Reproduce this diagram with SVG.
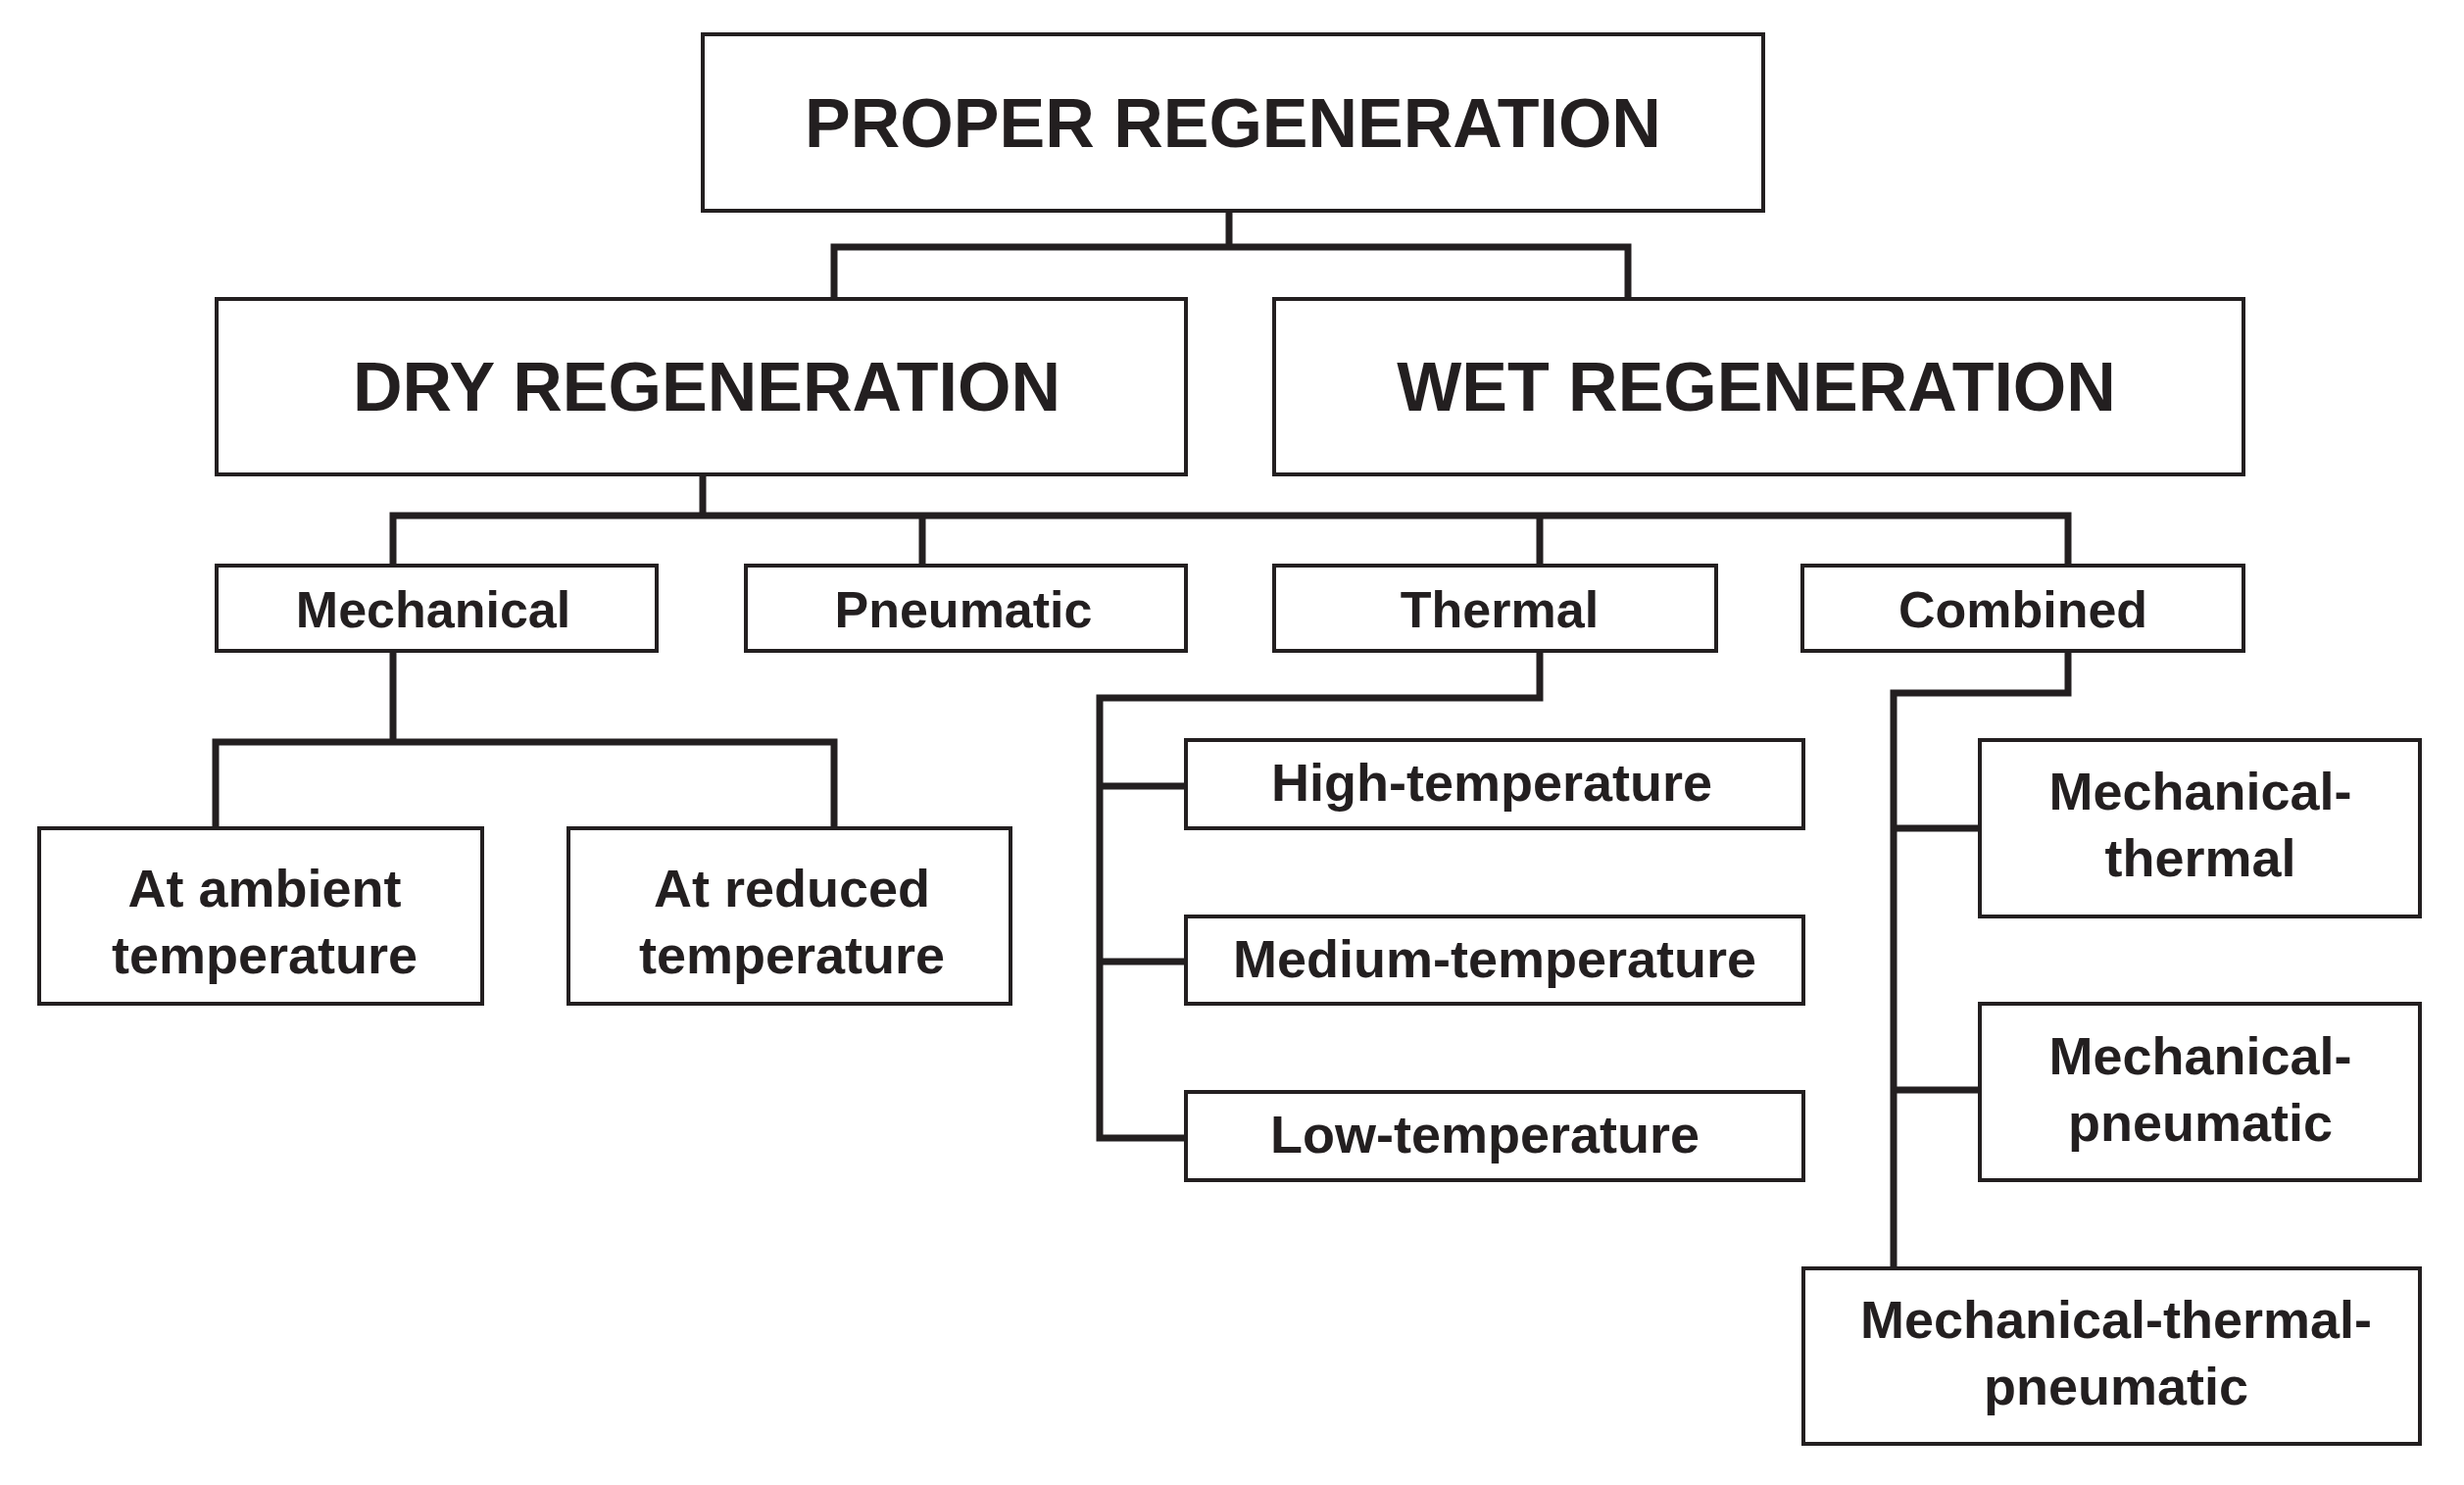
<svg xmlns="http://www.w3.org/2000/svg" width="2514" height="1515" viewBox="0 0 2514 1515">
<style>
rect{fill:#fff;stroke:#231f20;stroke-width:4}
text{font-family:"Liberation Sans",Arial,sans-serif;font-weight:bold;fill:#231f20;text-anchor:middle}
.t1{font-size:70px}.t2{font-size:52px}.t3{font-size:54px}
#connectors path{fill:none;stroke:#231f20;stroke-width:7}
</style>
<rect x="0" y="0" width="2514" height="1515" style="stroke:none"/>
<g id="connectors">
<path d="M1254 215V252M851 305V252H1661V305"/>
<path d="M717 484V526M401 577V526H2110V577M941 526V577M1571 526V577"/>
<path d="M401 664V757M220 845V757H851V845"/>
<path d="M1571 664V712H1122V1161H1210M1122 802H1210M1122 981H1210"/>
<path d="M2110 664V707H1932V1292M1932 845H2020M1932 1112H2020"/>
</g>
<g id="proper"><rect x="717" y="35" width="1082" height="180"/><text class="t1" x="1258" y="150">PROPER REGENERATION</text></g>
<g id="dry"><rect x="221" y="305" width="989" height="179"/><text class="t1" x="721" y="419">DRY REGENERATION</text></g>
<g id="wet"><rect x="1300" y="305" width="989" height="179"/><text class="t1" x="1792" y="419">WET REGENERATION</text></g>
<g id="mechanical"><rect x="221" y="577" width="449" height="87"/><text class="t2" x="442" y="640">Mechanical</text></g>
<g id="pneumatic"><rect x="761" y="577" width="449" height="87"/><text class="t2" x="983" y="640">Pneumatic</text></g>
<g id="thermal"><rect x="1300" y="577" width="451" height="87"/><text class="t2" x="1530" y="640">Thermal</text></g>
<g id="combined"><rect x="1839" y="577" width="450" height="87"/><text class="t2" x="2064" y="640">Combined</text></g>
<g id="ambient"><rect x="40" y="845" width="452" height="179"/><text class="t3" x="270" y="925">At ambient</text><text class="t3" x="270" y="993">temperature</text></g>
<g id="reduced"><rect x="580" y="845" width="451" height="179"/><text class="t3" x="808" y="925">At reduced</text><text class="t3" x="808" y="993">temperature</text></g>
<g id="high"><rect x="1210" y="755" width="630" height="90"/><text class="t3" x="1522" y="817">High-temperature</text></g>
<g id="medium"><rect x="1210" y="935" width="630" height="89"/><text class="t3" x="1525" y="997">Medium-temperature</text></g>
<g id="low"><rect x="1210" y="1114" width="630" height="90"/><text class="t3" x="1515" y="1176">Low-temperature</text></g>
<g id="mt"><rect x="2020" y="755" width="449" height="180"/><text class="t3" x="2245" y="826">Mechanical-</text><text class="t3" x="2245" y="894">thermal</text></g>
<g id="mp"><rect x="2020" y="1024" width="449" height="180"/><text class="t3" x="2245" y="1096">Mechanical-</text><text class="t3" x="2245" y="1164">pneumatic</text></g>
<g id="mtp"><rect x="1840" y="1294" width="629" height="179"/><text class="t3" x="2159" y="1365">Mechanical-thermal-</text><text class="t3" x="2159" y="1433">pneumatic</text></g>
</svg>
